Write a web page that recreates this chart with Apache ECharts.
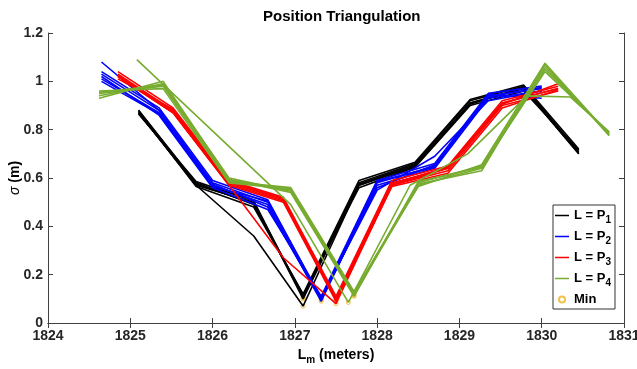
<!DOCTYPE html>
<html>
<head>
<meta charset="utf-8">
<script src="https://cdn.jsdelivr.net/npm/echarts@6/dist/echarts.min.js"></script>
<style>
  html, body { margin: 0; padding: 0; background: #fff; }
  #chart { width: 637px; height: 369px; }
</style>
</head>
<body>
<div id="chart"></div>
<script>
  // sample positions (meters) for each reference point, sigma (m) per run
  const p1X = [1825.1, 1825.8, 1826.5, 1827.1, 1827.78, 1828.46, 1829.13, 1829.78, 1830.45]
  const p1Y = [
    [0.88, 0.58, 0.49, 0.11, 0.58, 0.66, 0.92, 0.98, 0.71],
    [0.87, 0.57, 0.50, 0.10, 0.57, 0.65, 0.91, 0.97, 0.70],
    [0.875, 0.565, 0.48, 0.12, 0.59, 0.665, 0.925, 0.985, 0.72],
    [0.865, 0.585, 0.505, 0.105, 0.575, 0.655, 0.905, 0.975, 0.705],
    [0.88, 0.575, 0.495, 0.115, 0.56, 0.645, 0.90, 0.96, 0.715],
    [0.87, 0.57, 0.36, 0.07, 0.57, 0.65, 0.91, 0.97, 0.70]
  ]

  const p2X = [1824.65, 1825.35, 1826.0, 1826.67, 1827.32, 1828.0, 1828.7, 1829.35, 1830.0]
  const p2Y = [
    [1.03, 0.88, 0.58, 0.50, 0.10, 0.58, 0.65, 0.94, 0.97],
    [1.01, 0.87, 0.57, 0.49, 0.09, 0.57, 0.64, 0.93, 0.96],
    [1.02, 0.86, 0.56, 0.47, 0.11, 0.59, 0.66, 0.95, 0.98],
    [1.04, 0.89, 0.59, 0.51, 0.10, 0.56, 0.655, 0.935, 0.975],
    [1.08, 0.88, 0.575, 0.48, 0.095, 0.585, 0.645, 0.945, 0.93],
    [1.00, 0.865, 0.565, 0.505, 0.105, 0.55, 0.69, 0.92, 0.96]
  ]

  const p3X = [1824.85, 1825.52, 1826.2, 1826.86, 1827.5, 1828.18, 1828.86, 1829.52, 1830.2]
  const p3Y = [
    [1.03, 0.88, 0.58, 0.51, 0.10, 0.58, 0.64, 0.91, 0.97],
    [1.02, 0.87, 0.57, 0.50, 0.09, 0.57, 0.63, 0.90, 0.96],
    [1.04, 0.89, 0.59, 0.52, 0.11, 0.59, 0.65, 0.92, 0.98],
    [1.01, 0.885, 0.575, 0.505, 0.105, 0.575, 0.645, 0.905, 0.99],
    [1.025, 0.875, 0.585, 0.515, 0.095, 0.565, 0.62, 0.89, 0.965],
    [1.02, 0.87, 0.57, 0.27, 0.08, 0.57, 0.64, 0.91, 0.97]
  ]

  const p4X = [1824.62, 1825.4, 1826.2, 1826.95, 1827.72, 1828.5, 1829.27, 1830.04, 1830.82]
  const p4Y = [
    [0.95, 0.98, 0.59, 0.55, 0.12, 0.58, 0.65, 1.06, 0.78],
    [0.94, 0.99, 0.60, 0.545, 0.115, 0.57, 0.64, 1.05, 0.785],
    [0.96, 0.97, 0.58, 0.555, 0.125, 0.575, 0.63, 1.07, 0.775],
    [0.93, 1.00, 0.595, 0.54, 0.11, 0.585, 0.645, 1.04, 0.79],
    [0.955, 0.985, 0.585, 0.56, 0.13, 0.565, 0.655, 1.075, 0.78]
  ]
  // one P4 run sampled at other positions
  const p4OddX = [1825.08, 1826.95, 1827.65, 1828.4, 1829.1, 1829.82, 1830.35, 1830.82]
  const p4OddY = [1.09, 0.49, 0.085, 0.57, 0.70, 0.94, 0.935, 0.79]

  const xTicks = [1824, 1831, 1]
  const yTicks = [0, 1.2, 0.2]

  const font = 'Liberation Sans, Arial, Helvetica, sans-serif'
  const minColor = '#edb120'

  const groups = [
    { name: 'L = P1', color: '#000000', runs: p1Y.map(ys => [p1X, ys]) },
    { name: 'L = P2', color: '#0000ff', runs: p2Y.map(ys => [p2X, ys]) },
    { name: 'L = P3', color: '#ff0000', runs: p3Y.map(ys => [p3X, ys]) },
    { name: 'L = P4', color: '#77ac30', runs: p4Y.map(ys => [p4X, ys]).concat([[p4OddX, p4OddY]]) }
  ]

  const series = []
  const mins = []
  groups.forEach(g => {
    g.runs.forEach(([xs, ys]) => {
      const pts = xs.map((x, i) => [x, ys[i]])
      let k = 0
      ys.forEach((y, i) => { if (y < ys[k]) k = i })
      mins.push(pts[k])
      series.push({
        name: g.name,
        type: 'line',
        data: pts,
        symbol: 'none',
        animation: false,
        color: g.color,
        lineStyle: { color: g.color, width: 1.6 }
      })
    })
  })
  series.push({
    name: 'Min',
    type: 'scatter',
    data: mins,
    symbol: 'circle',
    symbolSize: 4,
    animation: false,
    itemStyle: { color: 'rgba(0,0,0,0)', borderColor: minColor, borderWidth: 1 }
  })

  const tickText = { color: '#262626', fontFamily: font, fontWeight: 'bold', fontSize: 14 }
  const lineCol = '#404040'
  // legend mark for the runs: a short bar in the middle of a 14x6 box
  const barIcon = 'path://M0,0L0.01,0L0,0.01Z M0,2.2L14,2.2L14,3.8L0,3.8Z M14,6L13.99,6L14,5.99Z'
  const legendData = groups.map(g => ({
    name: g.name,
    icon: barIcon,
    itemStyle: { color: g.color, borderWidth: 0 }
  }))
  legendData.push({ name: 'Min', icon: 'circle' })

  const option = {
    backgroundColor: '#fff',
    title: {
      text: 'Position Triangulation',
      left: 258,
      top: 4,
      textStyle: { fontFamily: font, fontWeight: 'bold', fontSize: 15, color: '#000' }
    },
    grid: { left: 48, right: 13, top: 33, bottom: 46, outerBoundsMode: 'none', containLabel: false },
    legend: {
      orient: 'vertical',
      left: 553,
      top: 205,
      data: legendData,
      itemWidth: 14,
      itemHeight: 6,
      itemGap: 5,
      padding: [4, 4, 3, 2],
      borderColor: '#333',
      borderWidth: 1,
      backgroundColor: '#fff',
      formatter: name => name === 'Min' ? '{a|Min}' : '{a|' + name.slice(0, -1) + '}{s|' + name.slice(-1) + '}',
      textStyle: {
        rich: {
          a: { fontFamily: font, fontWeight: 'bold', fontSize: 13, color: '#000' },
          s: { fontFamily: font, fontWeight: 'bold', fontSize: 10, color: '#000', padding: [9, 0, 0, 0] }
        }
      }
    },
    xAxis: [
      {
        type: 'value', min: xTicks[0], max: xTicks[1], interval: xTicks[2],
        name: '{a|L}{s|m}{a| (meters)}',
        nameLocation: 'middle',
        nameGap: 22,
        nameMoveOverlap: false,
        nameTextStyle: {
          rich: {
            a: { fontFamily: font, fontWeight: 'bold', fontSize: 14, color: '#000' },
            s: { fontFamily: font, fontWeight: 'bold', fontSize: 10, color: '#000', padding: [10, 0, 0, 0] }
          }
        },
        axisLine: { lineStyle: { color: lineCol } },
        axisTick: { inside: true, length: 5, lineStyle: { color: lineCol } },
        axisLabel: Object.assign({ margin: 6, formatter: v => String(v) }, tickText),
        splitLine: { show: false }
      },
      {
        type: 'value', position: 'top', min: xTicks[0], max: xTicks[1], interval: xTicks[2],
        axisLine: { show: true, lineStyle: { color: lineCol } },
        axisTick: { inside: true, length: 5, lineStyle: { color: lineCol } },
        axisLabel: { show: false },
        splitLine: { show: false }
      }
    ],
    yAxis: [
      {
        type: 'value', min: yTicks[0], max: yTicks[1], interval: yTicks[2],
        name: '{g|σ}{a| (m)}',
        nameLocation: 'middle',
        nameGap: 26,
        nameMoveOverlap: false,
        nameTextStyle: {
          rich: {
            g: { fontFamily: font, fontStyle: 'italic', fontSize: 14, color: '#000' },
            a: { fontFamily: font, fontWeight: 'bold', fontSize: 14, color: '#000' }
          }
        },
        axisLine: { show: true, lineStyle: { color: lineCol } },
        axisTick: { inside: true, length: 5, lineStyle: { color: lineCol } },
        axisLabel: Object.assign({ margin: 5 }, tickText),
        splitLine: { show: false }
      },
      {
        type: 'value', position: 'right', min: yTicks[0], max: yTicks[1], interval: yTicks[2],
        axisLine: { show: true, lineStyle: { color: lineCol } },
        axisTick: { inside: true, length: 5, lineStyle: { color: lineCol } },
        axisLabel: { show: false },
        splitLine: { show: false }
      }
    ],
    series: series
  }

  const chart = echarts.init(document.getElementById('chart'))
  chart.setOption(option)
</script>
</body>
</html>
